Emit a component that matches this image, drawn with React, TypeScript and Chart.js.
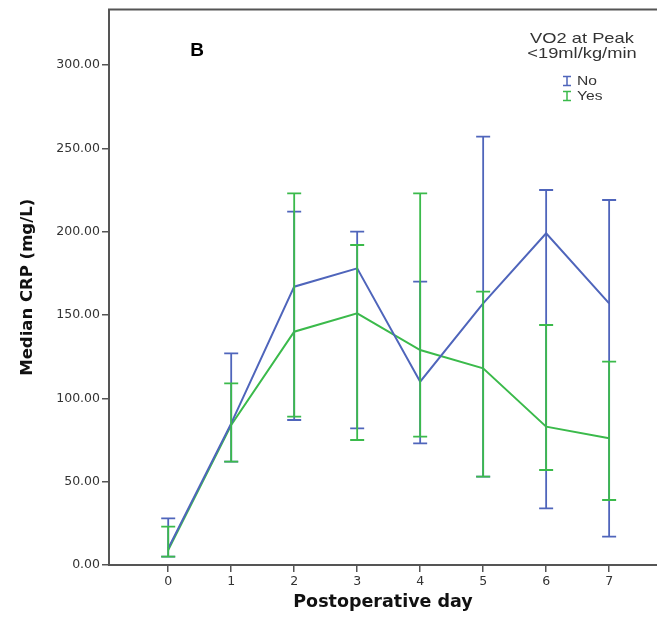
import React, { useEffect, useRef } from "react";
import { Chart, registerables } from "chart.js";

Chart.register(...registerables);

const days = [0, 1, 2, 3, 4, 5, 6, 7];
const noMedian = [10, 85, 167, 178, 110, 157, 199, 157];
const noLow = [5, 62, 87, 82, 73, 53, 34, 17];
const noHigh = [28, 127, 212, 200, 170, 257, 225, 219];
const yesMedian = [9, 84, 140, 151, 129, 118, 83, 76];
const yesLow = [5, 62, 89, 75, 77, 53, 57, 39];
const yesHigh = [23, 109, 223, 192, 223, 164, 144, 122];
const yTicks = [0, 50, 100, 150, 200, 250, 300];
const legendTitle = ["VO2 at Peak", "<19ml/kg/min"];
const seriesNames = ["No", "Yes"];
const panelLabel = "B";

const BLUE = "#4f65bb";
const GREEN = "#3bba4b";
const AXIS = "#555555";

function stretchedText(
  ctx: CanvasRenderingContext2D,
  text: string,
  x: number,
  y: number,
  font: string,
  sx: number,
  align: CanvasTextAlign,
  color: string
) {
  ctx.save();
  ctx.font = font;
  ctx.fillStyle = color;
  ctx.textAlign = align;
  ctx.textBaseline = "middle";
  ctx.translate(x, y);
  ctx.scale(sx, 1);
  ctx.fillText(text, 0, 0);
  ctx.restore();
}

export default function App() {
  const ref = useRef<HTMLCanvasElement>(null);

  useEffect(() => {
    if (!ref.current) return;

    const errorBars = {
      id: "errorBars",
      afterDatasetsDraw(chart: any) {
        const { ctx, scales } = chart;
        const x = scales.x;
        const y = scales.y;
        chart.data.datasets.forEach((ds: any) => {
          ctx.save();
          ctx.strokeStyle = ds.borderColor;
          ctx.lineWidth = 1.8;
          ds.low.forEach((lo: number, i: number) => {
            const px = x.getPixelForValue(days[i]);
            const pl = y.getPixelForValue(lo);
            const ph = y.getPixelForValue(ds.high[i]);
            ctx.beginPath();
            ctx.moveTo(px, pl);
            ctx.lineTo(px, ph);
            ctx.moveTo(px - 7, pl);
            ctx.lineTo(px + 7, pl);
            ctx.moveTo(px - 7, ph);
            ctx.lineTo(px + 7, ph);
            ctx.stroke();
          });
          ctx.restore();
        });
      },
    };

    const decorations = {
      id: "decorations",
      afterDraw(chart: any) {
        const { ctx, chartArea } = chart;
        ctx.save();
        ctx.strokeStyle = AXIS;
        ctx.lineWidth = 2;
        ctx.beginPath();
        ctx.moveTo(chartArea.left - 1, chartArea.top);
        ctx.lineTo(chartArea.right, chartArea.top);
        ctx.stroke();
        ctx.restore();

        stretchedText(ctx, panelLabel, 197, 51, "bold 19px 'Liberation Sans', Arial, sans-serif", 1.0, "center", "#000");

        stretchedText(ctx, legendTitle[0], 582, 39, "15px 'Liberation Sans', Arial, sans-serif", 1.22, "center", "#333");
        stretchedText(ctx, legendTitle[1], 582, 54, "15px 'Liberation Sans', Arial, sans-serif", 1.22, "center", "#333");

        const colors = [BLUE, GREEN];
        const ys = [81, 96];
        seriesNames.forEach((name, i) => {
          const cx = 567;
          const cy = ys[i];
          ctx.save();
          ctx.strokeStyle = colors[i];
          ctx.lineWidth = 1.5;
          ctx.beginPath();
          ctx.moveTo(cx, cy - 4.5);
          ctx.lineTo(cx, cy + 4.5);
          ctx.moveTo(cx - 4, cy - 4.5);
          ctx.lineTo(cx + 4, cy - 4.5);
          ctx.moveTo(cx - 4, cy + 4.5);
          ctx.lineTo(cx + 4, cy + 4.5);
          ctx.stroke();
          ctx.restore();
          stretchedText(ctx, name, 577, cy + 1, "12.5px 'Liberation Sans', Arial, sans-serif", 1.25, "left", "#333");
        });
      },
    };

    Chart.defaults.font.family = "'DejaVu Sans', sans-serif";

    const chart = new Chart(ref.current, {
      type: "line",
      data: {
        datasets: [
          {
            label: seriesNames[0],
            data: days.map((d, i) => ({ x: d, y: noMedian[i] })),
            borderColor: BLUE,
            backgroundColor: BLUE,
            borderWidth: 2,
            pointRadius: 0,
            tension: 0,
            low: noLow,
            high: noHigh,
          } as any,
          {
            label: seriesNames[1],
            data: days.map((d, i) => ({ x: d, y: yesMedian[i] })),
            borderColor: GREEN,
            backgroundColor: GREEN,
            borderWidth: 2,
            pointRadius: 0,
            tension: 0,
            low: yesLow,
            high: yesHigh,
          } as any,
        ],
      },
      options: {
        animation: false,
        responsive: false,
        maintainAspectRatio: false,
        layout: { padding: { top: 5, right: 0, left: 0, bottom: 0 } },
        plugins: {
          legend: { display: false },
          tooltip: { enabled: false },
        },
        scales: {
          x: {
            type: "linear",
            min: -0.94,
            max: 7.76,
            afterBuildTicks: (scale: any) => {
              scale.ticks = days.map((v) => ({ value: v }));
            },
            afterFit: (scale: any) => {
              scale.height = 54;
            },
            ticks: {
              autoSkip: false,
              maxRotation: 0,
              padding: 2,
              color: "#333",
              font: { size: 12.5 },
              callback: (v: any) => String(v),
            },
            grid: {
              drawOnChartArea: false,
              drawTicks: true,
              tickLength: 7,
              color: AXIS,
              lineWidth: 1.5,
            },
            border: { display: true, color: AXIS, width: 2 },
            title: {
              display: true,
              text: "Postoperative day",
              color: "#111",
              font: { size: 17.5, weight: "bold" },
              padding: { top: 0, bottom: 6 },
            },
          },
          y: {
            type: "linear",
            min: 0,
            max: 333.3,
            afterBuildTicks: (scale: any) => {
              scale.ticks = yTicks.map((v) => ({ value: v }));
            },
            afterFit: (scale: any) => {
              scale.width = 109;
            },
            ticks: {
              padding: 2,
              color: "#333",
              font: { size: 12.5 },
              callback: (v: any) => Number(v).toFixed(2),
            },
            grid: {
              drawOnChartArea: false,
              drawTicks: true,
              tickLength: 7,
              color: AXIS,
              lineWidth: 1.5,
            },
            border: { display: true, color: AXIS, width: 2 },
            title: {
              display: true,
              text: "Median CRP (mg/L)",
              color: "#111",
              font: { size: 16.5, weight: "bold" },
              padding: { top: 18, bottom: 0 },
            },
          },
        },
      } as any,
      plugins: [errorBars, decorations],
    });

    return () => chart.destroy();
  }, []);

  return (
    <div style={{ position: "absolute", left: 0, top: 0, width: 657, height: 619, background: "#fff" }}>
      <canvas ref={ref} width={657} height={619} style={{ display: "block", width: 657, height: 619 }} />
    </div>
  );
}
